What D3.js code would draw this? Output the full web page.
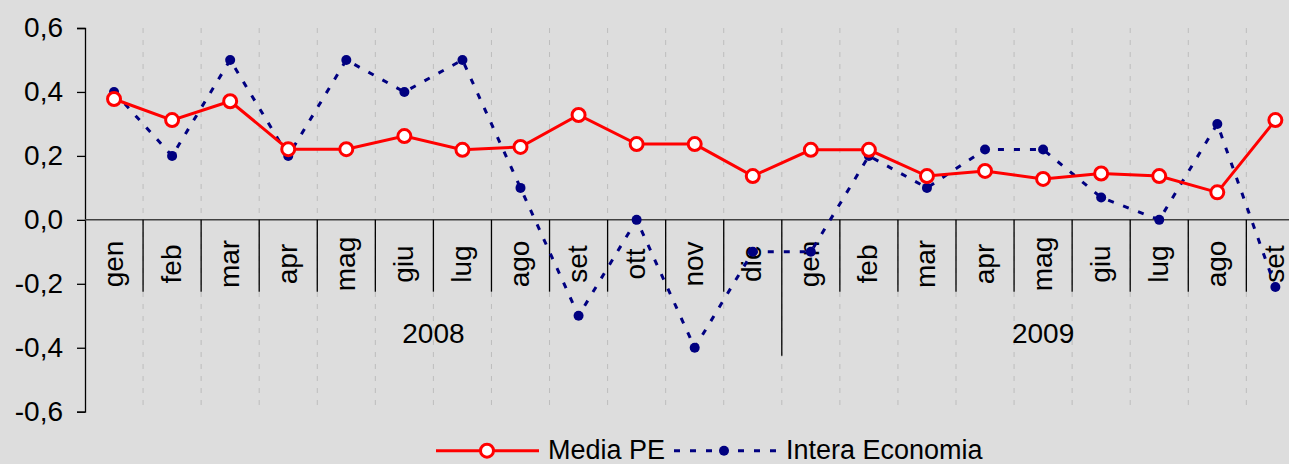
<!DOCTYPE html>
<html>
<head>
<meta charset="utf-8">
<script src="https://cdn.jsdelivr.net/npm/d3@7"></script>
<style>
  html, body { margin: 0; padding: 0; background: #dddddd; overflow: hidden; }
  svg { display: block; font-family: Arial, "Liberation Sans", sans-serif; }
</style>
</head>
<body>
<script>
const months = ['gen', 'feb', 'mar', 'apr', 'mag', 'giu', 'lug', 'ago', 'set', 'ott', 'nov', 'dic',
  'gen', 'feb', 'mar', 'apr', 'mag', 'giu', 'lug', 'ago', 'set'];
const years = [
  { label: '2008', from: 0, to: 12 },
  { label: '2009', from: 12, to: 21 },
];
const mediaPE = [0.378, 0.312, 0.371, 0.221, 0.221, 0.262, 0.219, 0.228, 0.328, 0.237, 0.237, 0.137,
  0.219, 0.219, 0.137, 0.153, 0.128, 0.145, 0.137, 0.086, 0.312];
const interaEconomia = [0.4, 0.2, 0.5, 0.2, 0.5, 0.4, 0.5, 0.1, -0.3, 0.0, -0.4, -0.1,
  -0.1, 0.2, 0.1, 0.22, 0.22, 0.07, 0.0, 0.3, -0.21];
const yTicks = [-0.6, -0.4, -0.2, 0, 0.2, 0.4, 0.6];

const width = 1289;
const height = 464;
const plotLeft = 85;
const plotRight = 1304.4;
const plotTop = 28;
const plotBottom = 411.7;
const axisFont = 28;
const legendFont = 27;

const svg = d3.select('body')
  .append('svg')
  .attr('width', width)
  .attr('height', height);

const idx = d3.range(months.length);
const x = d3.scaleBand(idx, [plotLeft, plotRight]);
const y = d3.scaleLinear([-0.6, 0.6], [plotBottom, plotTop]);
const fmt = v => d3.format('.1f')(v).replace('.', ',').replace('−', '-');

// vertical dashed gridlines at category boundaries
svg.append('g')
  .selectAll('line')
  .data(idx.slice(1))
  .join('line')
  .attr('x1', i => x(i))
  .attr('x2', i => x(i))
  .attr('y1', y(0.6))
  .attr('y2', y(-0.6))
  .attr('stroke', '#bdbdbd')
  .attr('stroke-width', 1)
  .attr('stroke-dasharray', '5,7');

// y axis
const yAxis = d3.axisLeft(y)
  .tickValues(yTicks)
  .tickFormat(fmt)
  .tickSize(8)
  .tickPadding(14);

svg.append('g')
  .attr('transform', `translate(${plotLeft},0)`)
  .call(yAxis)
  .call(g => g.select('.domain').attr('stroke', '#000').attr('stroke-width', 1.3))
  .call(g => g.selectAll('.tick line').attr('stroke', '#000').attr('stroke-width', 1.3))
  .call(g => g.selectAll('.tick text')
    .attr('font-size', axisFont)
    .attr('font-family', 'Arial, "Liberation Sans", sans-serif')
    .attr('fill', '#000'));

// category axis along zero
const y0 = y(0);
svg.append('line')
  .attr('x1', plotLeft)
  .attr('x2', width)
  .attr('y1', y0)
  .attr('y2', y0)
  .attr('stroke', '#404040')
  .attr('stroke-width', 1.5);

const yearStarts = years.map(d => d.from);
svg.append('g')
  .selectAll('line')
  .data(idx.slice(1))
  .join('line')
  .attr('x1', i => x(i))
  .attr('x2', i => x(i))
  .attr('y1', y0)
  .attr('y2', i => (yearStarts.includes(i) ? 355.7 : 291.7))
  .attr('stroke', '#000')
  .attr('stroke-width', 1.3);

svg.append('g')
  .selectAll('text')
  .data(idx)
  .join('text')
  .attr('transform', i => `translate(${x(i) + x.bandwidth() / 2 + 8.5},264) rotate(-90)`)
  .attr('text-anchor', 'middle')
  .attr('font-size', axisFont)
  .attr('fill', '#000')
  .text(i => months[i]);

svg.append('g')
  .selectAll('text')
  .data(years)
  .join('text')
  .attr('x', d => (x(d.from) + x(d.to - 1) + x.bandwidth()) / 2)
  .attr('y', 343)
  .attr('text-anchor', 'middle')
  .attr('font-size', axisFont)
  .attr('fill', '#000')
  .text(d => d.label);

const cx = i => x(i) + x.bandwidth() / 2;

// Intera Economia (navy dashed)
svg.append('path')
  .datum(interaEconomia)
  .attr('fill', 'none')
  .attr('stroke', '#000080')
  .attr('stroke-width', 3)
  .attr('stroke-dasharray', '6,10')
  .attr('d', d3.line().x((d, i) => cx(i)).y(d => y(d)));

svg.append('g')
  .selectAll('circle')
  .data(interaEconomia)
  .join('circle')
  .attr('cx', (d, i) => cx(i))
  .attr('cy', d => y(d))
  .attr('r', 5)
  .attr('fill', '#000080');

// Media PE (red)
svg.append('path')
  .datum(mediaPE)
  .attr('fill', 'none')
  .attr('stroke', '#ff0000')
  .attr('stroke-width', 3)
  .attr('d', d3.line().x((d, i) => cx(i)).y(d => y(d)));

svg.append('g')
  .selectAll('circle')
  .data(mediaPE)
  .join('circle')
  .attr('cx', (d, i) => cx(i))
  .attr('cy', d => y(d))
  .attr('r', 6.5)
  .attr('fill', '#fff')
  .attr('stroke', '#ff0000')
  .attr('stroke-width', 3);

// legend
const ly = 450.7;
const legend = svg.append('g');
legend.append('line')
  .attr('x1', 436).attr('x2', 539)
  .attr('y1', ly).attr('y2', ly)
  .attr('stroke', '#ff0000').attr('stroke-width', 3);
legend.append('circle')
  .attr('cx', 487).attr('cy', ly).attr('r', 6.5)
  .attr('fill', '#fff').attr('stroke', '#ff0000').attr('stroke-width', 3);
legend.append('text')
  .attr('x', 548).attr('y', 459)
  .attr('font-size', legendFont)
  .text('Media PE');
legend.append('line')
  .attr('x1', 674).attr('x2', 777)
  .attr('y1', ly).attr('y2', ly)
  .attr('stroke', '#000080').attr('stroke-width', 3)
  .attr('stroke-dasharray', '6,10');
legend.append('circle')
  .attr('cx', 724).attr('cy', ly).attr('r', 5)
  .attr('fill', '#000080');
legend.append('text')
  .attr('x', 786).attr('y', 459)
  .attr('font-size', legendFont)
  .text('Intera Economia');
</script>
</body>
</html>
